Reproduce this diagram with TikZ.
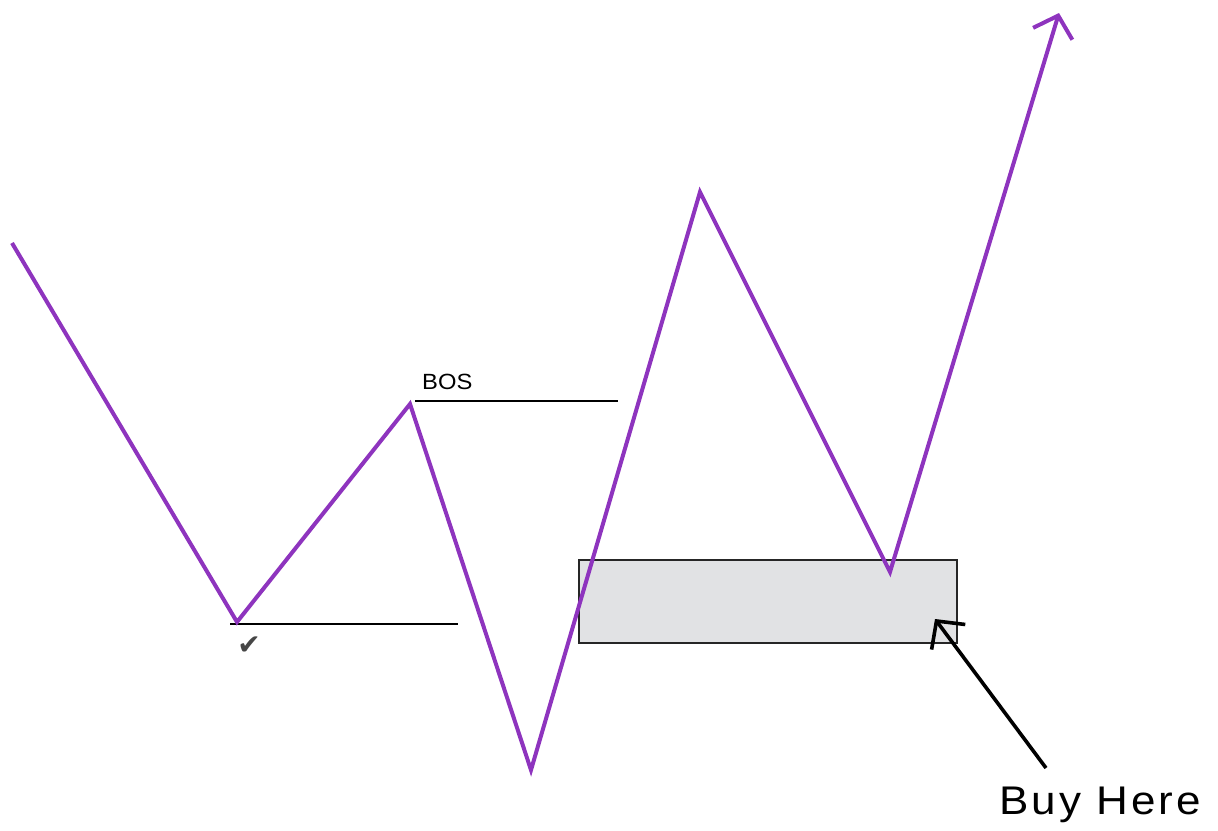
\documentclass[tikz,border=0pt]{standalone}
\usepackage{fontspec}
\setmainfont{Liberation Sans}
\newfontfamily\marksymfont{DejaVu Sans}
\newfontfamily\buyfont[LetterSpace=7]{Liberation Sans}
\usetikzlibrary{arrows.meta, positioning}
\definecolor{trendpurple}{RGB}{142,52,190}
\definecolor{zonegray}{RGB}{225,226,228}
\definecolor{tickgray}{RGB}{70,70,70}

\begin{document}
\begin{tikzpicture}[x=1pt, y=-1pt,
  trend/.style={trendpurple, line width=4pt},
  level/.style={black, line width=1.6pt},
  pointer/.style={black, line width=3.6pt},
  every node/.style={inner sep=0pt}]
  \useasboundingbox (0,0) rectangle (1218,830);
  % order block
  \node[draw=black!85, line width=1.8pt, fill=zonegray, minimum width=378pt,
        minimum height=83pt, anchor=north west] (zone) at (578,559) {};
  % swing points
  \coordinate (s0) at (12,243);
  \coordinate (s1) at (237,622);
  \coordinate (s2) at (410,404);
  \coordinate (s3) at (531,770);
  \coordinate (s4) at (700,192);
  \coordinate (s5) at (890,572);
  \coordinate (s6) at (1059,13);
  % levels
  \coordinate (lowL) at (230,624);
  \coordinate (lowR) at (458,624);
  \coordinate (bosL) at (415,401);
  \coordinate (bosR) at (618,401);
  \draw[level] (lowL) -- (lowR);
  \draw[level] (bosL) -- (bosR);
  \node[anchor=base west, font=\fontsize{22}{22}\selectfont] (bos) at (422,389)
       {\scalebox{1.08}[1]{BOS}};
  \node[text=tickgray, font=\marksymfont\fontsize{28}{28}\selectfont] (tick) at (249,646) {✔};
  % price path
  \draw[trend, -{Straight Barb[length=19pt,width=41pt]}]
    (s0) -- (s1) -- (s2) -- (s3) -- (s4) -- (s5) -- (s6);
  % entry
  \node[anchor=base west, font=\buyfont\fontsize{40}{40}\selectfont] (buy) at (999,814)
       {\scalebox{1.1}[1]{Buy Here}};
  \coordinate (buytail) at (1046,768);
  \coordinate (buytip) at (935,619);
  \draw[pointer, -{Straight Barb[length=20pt,width=42pt]}] (buytail) -- (buytip);
\end{tikzpicture}
\end{document}
